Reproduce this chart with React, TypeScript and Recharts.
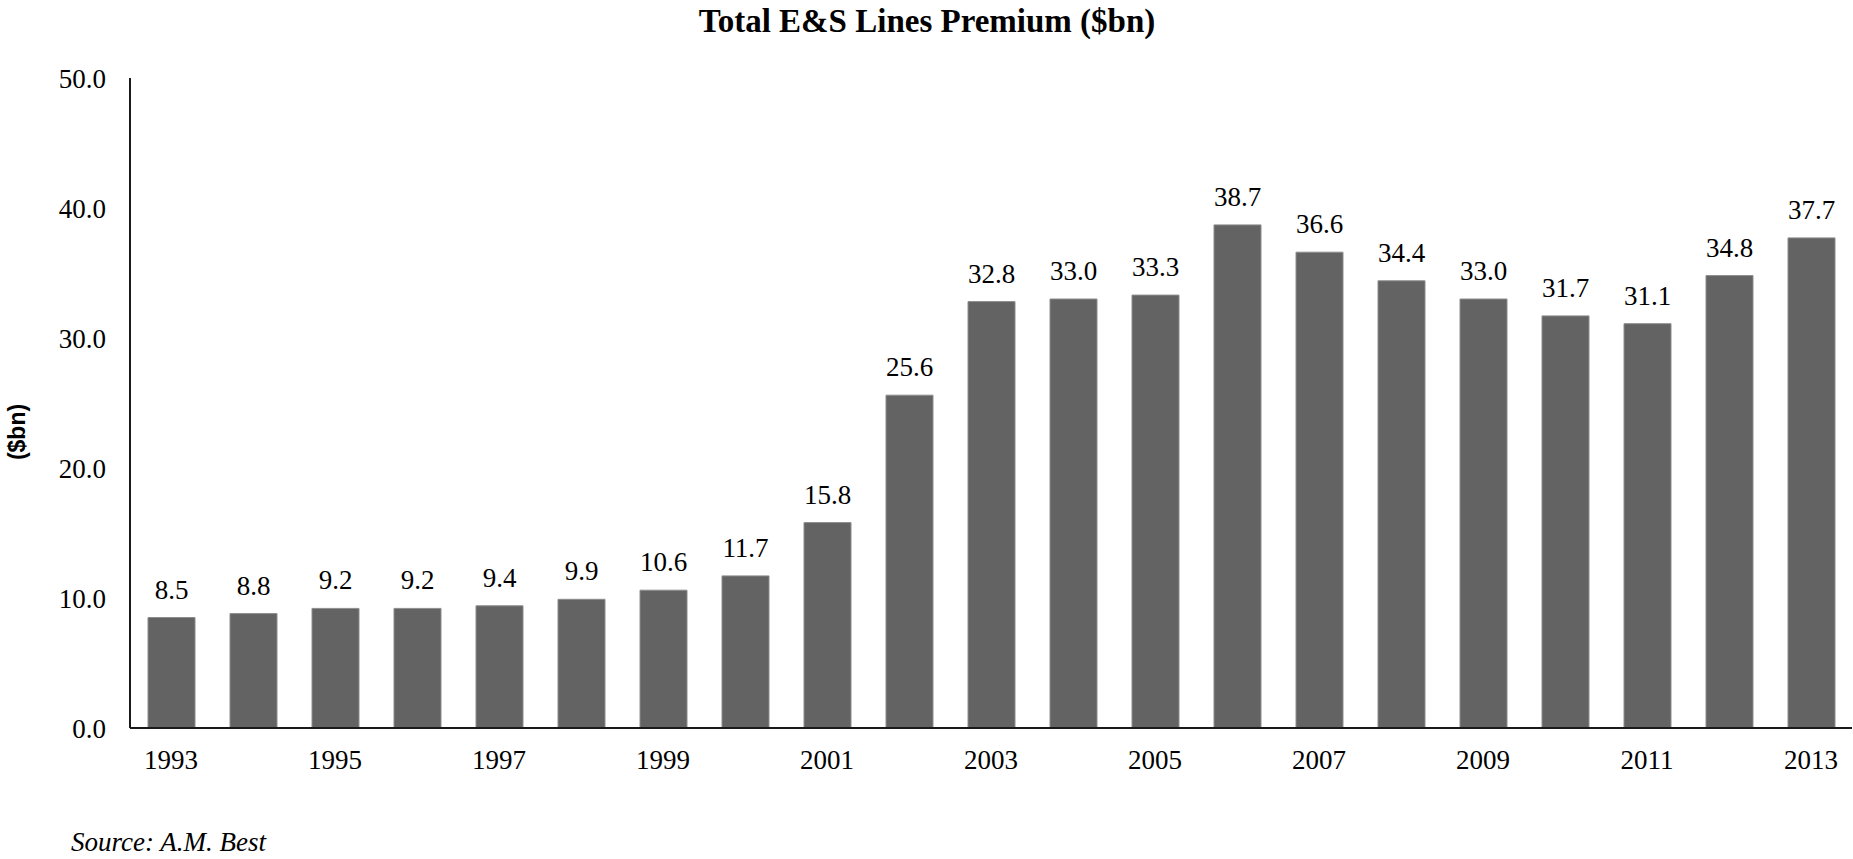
import React from 'react';
import { BarChart, Bar, XAxis, YAxis, LabelList } from 'recharts';

// Total E&S lines premium, $bn (A.M. Best)
const years = [
    '1993', '1994', '1995', '1996', '1997', '1998', '1999', '2000', '2001', '2002', '2003',
    '2004', '2005', '2006', '2007', '2008', '2009', '2010', '2011', '2012', '2013',
];
const premium = [
    8.5, 8.8, 9.2, 9.2, 9.4, 9.9, 10.6, 11.7, 15.8, 25.6, 32.8,
    33.0, 33.3, 38.7, 36.6, 34.4, 33.0, 31.7, 31.1, 34.8, 37.7,
];
const yTicks = [0, 10, 20, 30, 40, 50];

const SERIF = "'Liberation Serif', 'Times New Roman', serif";

export default function App() {
    const data = years.map((year, i) => ({ year, value: premium[i] }));

    return (
        <div style={{ position: 'absolute', left: 0, top: 0, width: 1853, height: 859, fontFamily: SERIF, background: '#fff' }}>
            {/* svg text otherwise falls back to a sans face */}
            <style>{`.chart-box svg text { font-family: ${SERIF} !important; }`}</style>
            <div
                style={{
                    position: 'absolute',
                    left: 927,
                    top: 0,
                    transform: 'translateX(-50%)',
                    lineHeight: '42px',
                    fontSize: 33,
                    fontWeight: 'bold',
                    whiteSpace: 'nowrap',
                }}
            >
                Total E&amp;S Lines Premium ($bn)
            </div>
            <div
                style={{
                    position: 'absolute',
                    left: 17,
                    top: 432,
                    transform: 'translate(-50%, -50%) rotate(-90deg)',
                    fontFamily: "'Liberation Sans', Arial, sans-serif",
                    fontWeight: 'bold',
                    fontSize: 23,
                    whiteSpace: 'nowrap',
                }}
            >
                ($bn)
            </div>
            <div className="chart-box">
                <BarChart
                    width={1853}
                    height={859}
                    data={data}
                    margin={{ top: 78, right: 1, left: 0, bottom: 71 }}
                >
                    <XAxis
                        dataKey="year"
                        interval={1}
                        height={60}
                        tickLine={false}
                        tickSize={6}
                        tickMargin={16}
                        axisLine={{ stroke: '#1a1a1a', strokeWidth: 2 }}
                        tick={{ fill: '#000', fontSize: 27 }}
                    />
                    <YAxis
                        width={130}
                        domain={[0, 50]}
                        ticks={yTicks}
                        interval={0}
                        tickFormatter={(v: number) => v.toFixed(1)}
                        tickLine={false}
                        tickSize={6}
                        tickMargin={18}
                        axisLine={{ stroke: '#1a1a1a', strokeWidth: 2 }}
                        tick={{ fill: '#000', fontSize: 27 }}
                    />
                    <Bar dataKey="value" fill="#636363" stroke="#8c8c8c" strokeWidth={1} barSize={47} isAnimationActive={false}>
                        <LabelList
                            dataKey="value"
                            position="top"
                            offset={19}
                            formatter={(v: number) => v.toFixed(1)}
                            fill="#000"
                            fontSize={27}
                        />
                    </Bar>
                </BarChart>
            </div>
            <div
                style={{
                    position: 'absolute',
                    left: 71,
                    top: 827,
                    lineHeight: '30px',
                    fontSize: 27,
                    fontStyle: 'italic',
                    whiteSpace: 'nowrap',
                }}
            >
                Source: A.M. Best
            </div>
        </div>
    );
}
